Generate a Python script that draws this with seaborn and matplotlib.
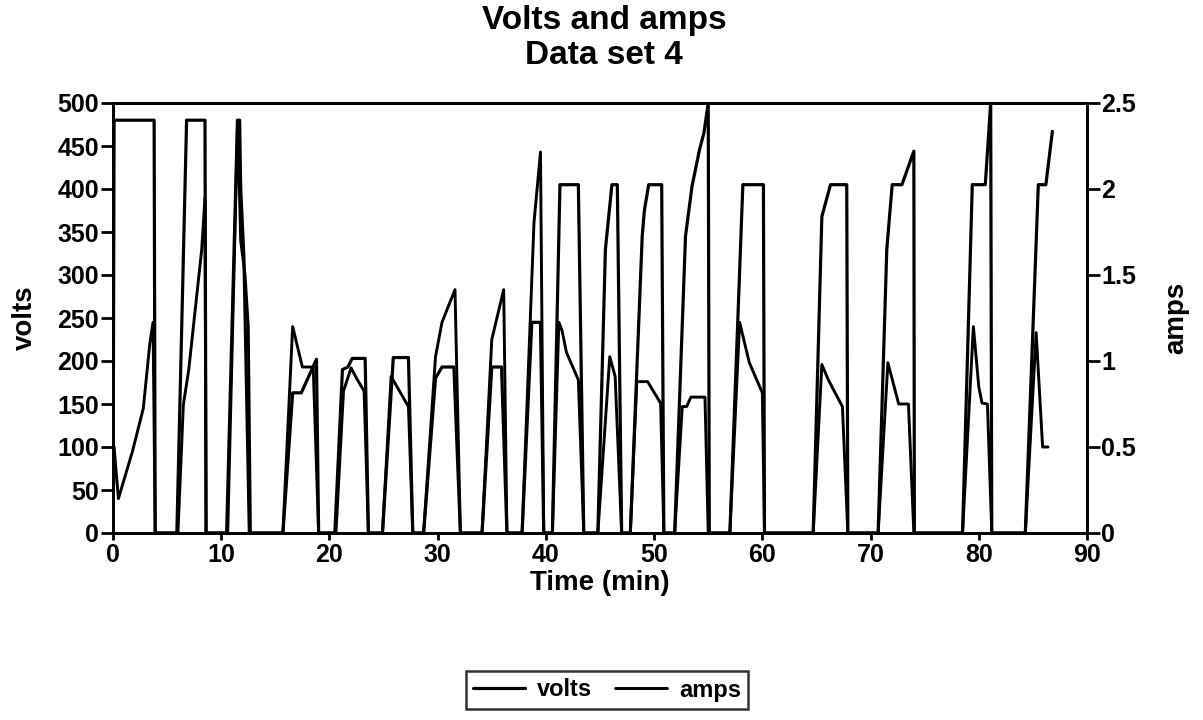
import matplotlib
matplotlib.use("Agg")
import matplotlib.pyplot as plt
import seaborn as sns
import pandas as pd

# ---------------- data ----------------
volts_time = [0, 0.1, 3.8, 3.9,
              5.9, 6.8, 8.5, 8.6,
              10.5, 11.5, 11.7, 11.8, 12.1, 12.6,
              15.7, 16.6, 17.4, 18.8, 19.0,
              20.5, 21.2, 21.7, 22.1, 23.3, 23.6,
              24.9, 25.9, 27.3, 27.7,
              28.7, 29.8, 30.4, 31.5, 32.1,
              34.1, 35.0, 35.9, 36.4,
              37.8, 38.7, 39.5, 39.8,
              40.6, 41.3, 43.0, 43.5,
              44.8, 45.5, 46.1, 46.6, 47.0,
              47.8, 48.9, 49.1, 49.5, 50.7, 50.9,
              51.9, 52.9, 53.5, 54.2, 54.6, 55.0, 55.1,
              57.0, 58.2, 60.1, 60.2,
              64.7, 65.5, 66.3, 67.8, 67.9,
              70.7, 71.5, 72.0, 72.9, 74.0, 74.05,
              78.5, 79.4, 80.6, 81.1, 81.2,
              84.3, 85.5, 86.2, 86.8]
volts = [0, 480, 480, 0,
         0, 480, 480, 0,
         0, 480, 480, 400, 320, 0,
         0, 163, 163, 202, 0,
         0, 190, 193, 203, 203, 0,
         0, 204, 204, 0,
         0, 180, 193, 193, 0,
         0, 193, 193, 0,
         0, 245, 245, 0,
         0, 405, 405, 0,
         0, 330, 405, 405, 0,
         0, 345, 375, 405, 405, 0,
         0, 345, 403, 446, 465, 500, 0,
         0, 405, 405, 0,
         0, 368, 405, 405, 0,
         0, 330, 405, 405, 444, 0,
         0, 405, 405, 500, 0,
         0, 405, 405, 467]

amps_time = [0, 0.1, 0.5, 1.8, 2.8, 3.4, 3.7, 3.9,
             6.0, 6.5, 7.0, 8.2, 8.5, 8.6,
             10.6, 11.5, 11.6, 11.8, 12.2, 12.5, 12.7,
             15.7, 16.6, 17.5, 18.5, 19.0,
             20.6, 21.3, 22.0, 22.5, 23.2, 23.6,
             24.9, 25.7, 27.3, 27.7,
             28.7, 29.8, 30.4, 31.6, 32.1,
             34.1, 35.0, 36.1, 36.4,
             37.8, 38.9, 39.5, 39.8,
             40.6, 41.2, 41.5, 41.9, 43.0, 43.5,
             44.8, 45.9, 46.4, 47.0,
             47.8, 48.4, 49.4, 50.6, 50.9,
             51.9, 52.6, 53.0, 53.4, 54.7, 55.0,
             57.0, 57.9, 58.8, 60.0, 60.2,
             64.7, 65.5, 66.1, 67.4, 67.9,
             70.7, 71.6, 72.6, 73.5, 74.0,
             78.5, 79.5, 80.0, 80.3, 80.8, 81.2,
             84.3, 85.3, 85.9, 86.4]
amps = [0, 0.5, 0.2, 0.475, 0.725, 1.1, 1.225, 0,
        0, 0.745, 0.95, 1.65, 1.95, 0,
        0, 2.35, 2.2, 1.7, 1.5, 1.2, 0,
        0, 1.2, 0.965, 0.965, 0,
        0, 0.825, 0.96, 0.9, 0.825, 0,
        0, 0.91, 0.735, 0,
        0, 1.025, 1.225, 1.415, 0,
        0, 1.125, 1.415, 0,
        0, 1.805, 2.215, 0,
        0, 1.225, 1.175, 1.05, 0.89, 0,
        0, 1.025, 0.91, 0,
        0, 0.88, 0.88, 0.755, 0,
        0, 0.735, 0.735, 0.79, 0.79, 0,
        0, 1.225, 0.99, 0.815, 0,
        0, 0.98, 0.89, 0.735, 0,
        0, 0.99, 0.75, 0.75, 0,
        0, 1.2, 0.85, 0.755, 0.75, 0,
        0, 1.165, 0.5, 0.5]

x_ticks = [0, 10, 20, 30, 40, 50, 60, 70, 80, 90]
volt_ticks = [0, 50, 100, 150, 200, 250, 300, 350, 400, 450, 500]
amp_ticks = [0, 0.5, 1, 1.5, 2, 2.5]
amp_tick_labels = ["0", "0.5", "1", "1.5", "2", "2.5"]

# ---------------- style ----------------
sns.set_style("ticks")
plt.rcParams["font.family"] = ["Liberation Sans", "DejaVu Sans"]
plt.rcParams["text.color"] = "black"
plt.rcParams["axes.labelcolor"] = "black"
plt.rcParams["xtick.color"] = "black"
plt.rcParams["ytick.color"] = "black"
plt.rcParams["font.weight"] = "bold"
plt.rcParams["axes.labelweight"] = "bold"

fig = plt.figure(figsize=(12.03, 7.2), dpi=100)
ax = fig.add_axes([113 / 1203, 1 - 533 / 720, (1087 - 113) / 1203, (533 - 103) / 720])
ax2 = ax.twinx()

dv = pd.DataFrame({"t": volts_time, "v": volts})
da = pd.DataFrame({"t": amps_time, "a": amps})

sns.lineplot(data=dv, x="t", y="v", ax=ax, sort=False, estimator=None,
             color="black", linewidth=2.3, label="volts", legend=False)
sns.lineplot(data=da, x="t", y="a", ax=ax2, sort=False, estimator=None,
             color="black", linewidth=2.1, label="amps", legend=False)

for a in (ax, ax2):
    if a.get_legend() is not None:
        a.get_legend().remove()

ax.set_xlim(0, 90)
ax.set_ylim(0, 500)
ax2.set_ylim(0, 2.5)
ax.set_xticks(x_ticks)
ax.set_yticks(volt_ticks)
ax2.set_yticks(amp_ticks)
ax2.set_yticklabels(amp_tick_labels)

for a in (ax, ax2):
    for s in a.spines.values():
        s.set_visible(True)
        s.set_linewidth(2)
        s.set_color("black")

ax.tick_params(axis="y", labelsize=18, length=9, width=2, pad=1)
ax.tick_params(axis="x", labelsize=18, length=5, width=2, pad=2)
ax2.tick_params(axis="y", labelsize=18, length=9, width=2, pad=1)

ax.set_xlabel("Time (min)", fontsize=20, labelpad=2)
ax.set_ylabel("volts", fontsize=20, labelpad=14)
ax2.set_ylabel("amps", fontsize=20, labelpad=20)

fig.text(0.502, 1 - 21 / 720, "Volts and amps", ha="center", va="center",
         fontsize=24, fontweight="bold")
fig.text(0.502, 1 - 56 / 720, "Data set 4", ha="center", va="center",
         fontsize=24, fontweight="bold")

h1, l1 = ax.get_legend_handles_labels()
h2, l2 = ax2.get_legend_handles_labels()
leg = fig.legend(h1 + h2, l1 + l2, loc="center",
                 bbox_to_anchor=(607 / 1203, 1 - 690 / 720), ncol=2,
                 prop={"size": 17, "weight": "bold"}, frameon=True,
                 fancybox=False, handlelength=2.2,
                 borderpad=0.3, columnspacing=1.0, handletextpad=0.5)
leg.get_frame().set_edgecolor("black")
leg.get_frame().set_linewidth(1.8)

fig.savefig("out.png", dpi=100, facecolor="white")
